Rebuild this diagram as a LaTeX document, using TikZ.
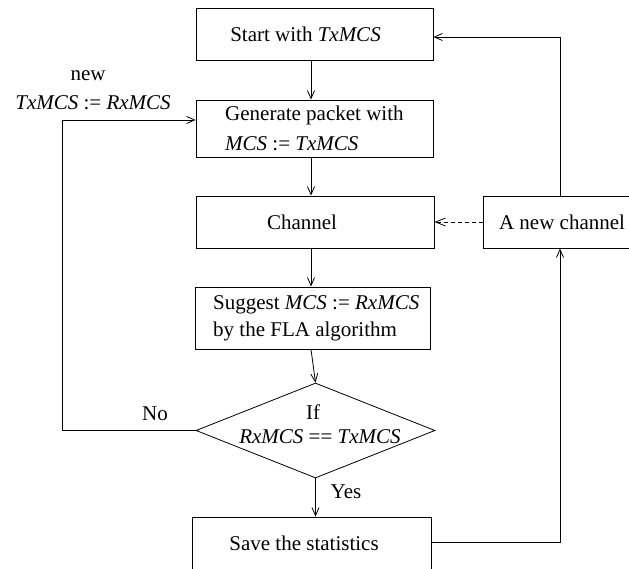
\documentclass[tikz,border=0pt]{standalone}
\usepackage{fontspec}
\setmainfont{Liberation Serif}
\usetikzlibrary{arrows.meta,shapes.geometric}
\begin{document}
\begin{tikzpicture}[x=1pt,y=-1pt,
  box/.style={draw, line width=0.8pt, inner sep=0, rectangle},
  lbl/.style={font=\fontsize{21}{27}\selectfont, inner sep=0},
  arr/.style={-{Straight Barb[length=8pt,width=7pt]}, line width=0.8pt},
  lin/.style={line width=0.8pt}]
\useasboundingbox (0,0) rectangle (629,569);
% boxes
\node[box, minimum width=237pt, minimum height=52pt] (start) at (314.5,34) {};
\node[box, minimum width=237pt, minimum height=57pt] (gen) at (314.5,128.5) {};
\node[box, minimum width=238pt, minimum height=52pt] (chan) at (315,222) {};
\node[box, minimum width=154pt, minimum height=52pt] (newch) at (560,222) {};
\node[box, minimum width=235pt, minimum height=62pt] (sugg) at (312.5,318) {};
\node[draw, line width=0.8pt, diamond, inner sep=0, minimum width=239pt, minimum height=95pt] (dec) at (315.5,430.5) {};
\node[box, minimum width=239pt, minimum height=56pt] (save) at (311.5,545) {};
% texts
\node[lbl] (tstart) at (305.5,34) {Start with \textit{TxMCS}};
\node[lbl, anchor=west, align=left] (tgen) at (225,128) {Generate packet with\\[3pt]\textit{MCS}~:=~\textit{TxMCS}};
\node[lbl] (tchan) at (302,222) {Channel};
\node[lbl] (tnewch) at (562,222) {A new channel};
\node[lbl, anchor=west, align=left] (tsugg) at (213,318.5) {Suggest \textit{MCS}~:=~\textit{RxMCS}\\by the FLA algorithm};
\node[lbl] (tif) at (313,412) {If};
\node[lbl] (tcond) at (320,437) {\textit{RxMCS}~==~\textit{TxMCS}};
\node[lbl] (tsave) at (304,543) {Save the statistics};
\node[lbl] (tnew) at (88,76) {new};
\node[lbl] (tassign) at (93,103) {\textit{TxMCS}~:=~\textit{RxMCS}};
\node[lbl] (tno) at (155,414) {No};
\node[lbl] (tyes) at (346,492) {Yes};
% helper coordinates
\coordinate (cx) at (311,0);
\coordinate (lp) at (62,120);
\coordinate (rb) at (560,542);
\coordinate (rt) at (560,37);
% main flow
\draw[arr] (start.south -| cx) -- (gen.north -| cx);
\draw[arr] (gen.south -| cx) -- (chan.north -| cx);
\draw[arr] (chan.south -| cx) -- (sugg.north -| cx);
\draw[arr] (sugg.south -| cx) -- (dec.north);
\draw[arr] (dec.south) -- (save.north -| dec.south);
% left loop
\draw[arr] (dec.west) -| (lp) -- (gen.west |- lp);
% right loop
\draw[arr] (save.east |- rb) -- (rb) -- (newch.south);
\draw[arr] (newch.north) -- (rt) -- (start.east |- rt);
\draw[-{Straight Barb[length=10pt,width=8pt]}, line width=0.8pt, dash pattern=on 4pt off 3pt] (newch.west) -- (chan.east);
\end{tikzpicture}
\end{document}
